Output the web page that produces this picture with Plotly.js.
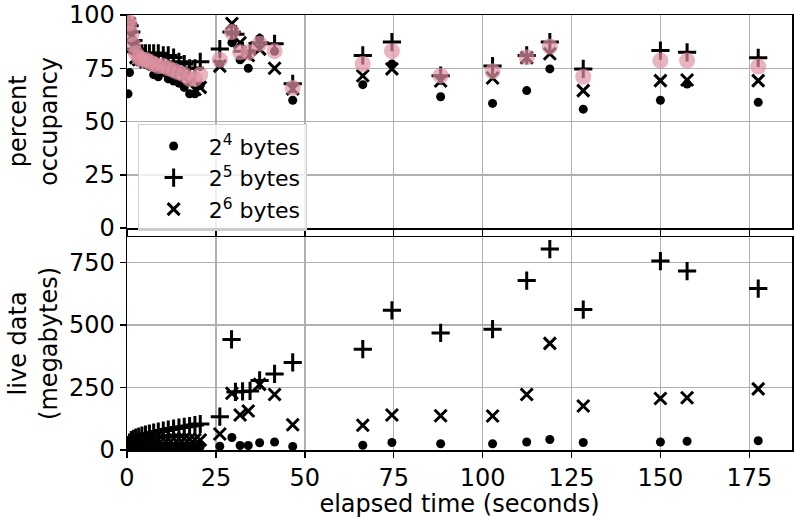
<!DOCTYPE html>
<html>
<head>
<meta charset="utf-8">
<script src="https://cdn.plot.ly/plotly-3.0.1.min.js"></script>
<style>html,body{margin:0;padding:0;background:#fff;}#chart{width:794px;height:518px;}</style>
</head>
<body>
<div id="chart"></div>
<script>
// elapsed time (seconds) for each series
const time16 = [0.3,0.7,1.2,1.8,2.5,3.3,4.2,5.2,6.3,7.5,8.8,10.2,11.6,13.1,14.6,16.1,17.6,19.1,20.6,
                26.1,29.5,31.8,34.1,37.3,41.5,46.6,66.3,74.5,88.2,102.8,112.4,118.9,128.3,150,157.5,177.5];
const time32 = [0.3,0.7,1.2,1.8,2.5,3.3,4.2,5.2,6.3,7.5,8.8,10.2,11.6,13.1,14.6,16.1,17.6,19.1,20.6,
                26.1,29.4,30.5,32.5,34.6,37.3,41.5,46.6,66.3,74.5,88.2,102.8,112.4,118.9,128.3,150,157.5,177.5];
const time64 = [0.3,0.7,1.2,1.8,2.5,3.3,4.2,5.2,6.3,7.5,8.8,10.2,11.6,13.1,14.6,16.1,17.6,19.1,20.6,
                26.1,29.5,31.8,34.1,37.3,41.5,46.6,66.3,74.5,88.2,102.8,112.4,118.9,128.3,150,157.5,177.5];
const timeAvg = time16;

// percent occupancy
const occ16 = [63,73,95,88,82,79,78,77,76,72,71,73,70,69,68,66,63,63,67,
               77,87,79,75,89,83,60,67.3,77,61.6,58.5,64.5,74.7,55.8,60,67.6,59];
const occ32 = [96,95,92,88,84,82,82,82,82,82,82,81,81,80,78,77,75,75,78,
               84,92,91,83,83,87,86.5,67.7,81,87.3,71.5,76,81,87.3,74.7,83.3,82.5,79.9];
const occ64 = [95,96,90,85,80,79,79,78,78,77,76,76,75,74,73,71,68,65,66,
               76,96,87,81,84,75,65.3,71.5,74.7,69,70.4,80,81.8,64.5,69.2,69.5,69.2];
const occAvg = [97,96,91,86,82,80,79,79,78,77,76,76,75,74,73,72,70,70,72,
                79,92,82.5,82.5,86.5,83,65.8,77,83,71.5,73.6,80.2,85.2,71,78.6,78.6,75.8];

// live data (megabytes)
const live16 = [3,5,8,10,12,12,13,14,13,14,15,14,13,15,14,16,15,13,14,
                15,50,18,18,29,32,14,19,30,25,25,32,42,30,32,35,37];
const live32 = [20,30,40,45,50,54,58,62,66,70,74,78,82,86,90,93,96,100,104,
                133,442,232,234,236,278,304,350,403,558,468,483,677,803,561,755,715,645];
const live64 = [12,18,25,28,30,33,34,37,38,40,42,44,44,46,45,46,44,42,40,
                64,227,140,156,262,222,101,99,140,137,136,222,426,176,206,209,244];

const names = ['2<sup>4</sup> bytes','2<sup>5</sup> bytes','2<sup>6</sup> bytes'];
const xTicks = [0,25,50,75,100,125,150,175];
const occTicks = [0,25,50,75,100];
const liveTicks = [0,250,500,750];

const dotM = {symbol:'circle', size:9, color:'#000'};
const plusM = {symbol:'cross-thin', size:13, color:'#000', line:{color:'#000', width:3}};
const xM = {symbol:'x-thin', size:12, color:'#000', line:{color:'#000', width:3}};
const pinkM = {symbol:'circle', size:16, color:'rgba(223,147,162,0.69)'};

const traces = [
  {x:time16, y:occ16, xaxis:'x2', yaxis:'y2', mode:'markers', marker:dotM, name:names[0], legendgroup:'a', showlegend:true},
  {x:time32, y:occ32, xaxis:'x2', yaxis:'y2', mode:'markers', marker:plusM, name:names[1], legendgroup:'b', showlegend:true},
  {x:time64, y:occ64, xaxis:'x2', yaxis:'y2', mode:'markers', marker:xM, name:names[2], legendgroup:'c', showlegend:true},
  {x:timeAvg, y:occAvg, xaxis:'x2', yaxis:'y2', mode:'markers', marker:pinkM, showlegend:false},
  {x:time16, y:live16, xaxis:'x', yaxis:'y', mode:'markers', marker:dotM, legendgroup:'a', showlegend:false},
  {x:time32, y:live32, xaxis:'x', yaxis:'y', mode:'markers', marker:plusM, legendgroup:'b', showlegend:false},
  {x:time64, y:live64, xaxis:'x', yaxis:'y', mode:'markers', marker:xM, legendgroup:'c', showlegend:false}
];

const font = {family:'DejaVu Sans, sans-serif', size:24, color:'#000'};
const legFont = {family:'DejaVu Sans, sans-serif', size:22, color:'#000'};
const axCommon = {
  showgrid:true, gridcolor:'#b0b0b0', gridwidth:1.5, zeroline:false,
  showline:true, linecolor:'#000', linewidth:1.5, mirror:true,
  ticks:'outside', ticklen:6, tickwidth:1.5, tickcolor:'#000',
  tickfont:font
};

const layout = {
  width:794, height:518,
  margin:{l:127, r:2, t:15, b:68},
  paper_bgcolor:'#fff', plot_bgcolor:'#fff',
  font:font,
  showlegend:true,
  legend:{x:0.016, y:0.749, xanchor:'left', yanchor:'top',
          bgcolor:'rgba(255,255,255,0.8)', bordercolor:'#d0d0d0', borderwidth:1,
          font:legFont, itemwidth:60, tracegroupgap:0},
  xaxis:Object.assign({}, axCommon, {domain:[0,1], anchor:'y', range:[0,187], tickvals:xTicks,
          title:{text:'elapsed time (seconds)', font:font, standoff:6}}),
  xaxis2:Object.assign({}, axCommon, {domain:[0,1], anchor:'y2', range:[0,187], tickvals:xTicks,
          matches:'x', showticklabels:false}),
  yaxis:Object.assign({}, axCommon, {domain:[0,0.489], anchor:'x', range:[0,850], tickvals:liveTicks}),
  yaxis2:Object.assign({}, axCommon, {domain:[0.5103,1], anchor:'x2', range:[0,100], tickvals:occTicks}),
  annotations:[
    {text:'percent<br>occupancy', textangle:-90, xref:'paper', yref:'paper',
     x:-0.141, y:0.755, xanchor:'center', yanchor:'middle', showarrow:false, font:font},
    {text:'live data<br>(megabytes)', textangle:-90, xref:'paper', yref:'paper',
     x:-0.141, y:0.2445, xanchor:'center', yanchor:'middle', showarrow:false, font:font}
  ]
};

Plotly.newPlot('chart', traces, layout, {staticPlot:true, displayModeBar:false});
</script>
</body>
</html>
